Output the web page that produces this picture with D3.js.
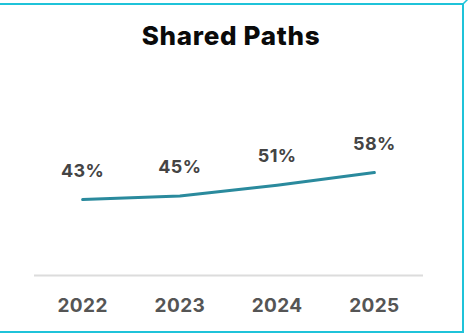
<!DOCTYPE html>
<html>
<head>
<meta charset="utf-8">
<script src="https://cdn.jsdelivr.net/npm/d3@7"></script>
<style>
  html, body { margin: 0; padding: 0; background: #fff; }
  svg { display: block; }
</style>
</head>
<body>
<div id="chart"></div>
<script>
// Share of respondents on shared paths, by year
const years = ["2022", "2023", "2024", "2025"];
const shares = [43, 45, 51, 58];
const title = "Shared Paths";

const W = 470, H = 334;
const svg = d3.select("#chart").append("svg")
  .attr("width", W).attr("height", H);

// card frame (left edge runs off the canvas)
const frame = "#1fc3d9";
svg.append("path")
  .attr("d", "M-5,4 H463 V332 H-5")
  .attr("fill", "none").attr("stroke", frame).attr("stroke-width", 2);
svg.append("path")
  .attr("d", "M463,4 L470,-3")
  .attr("fill", "none").attr("stroke", frame).attr("stroke-width", 1.5);

svg.append("text")
  .attr("x", 231).attr("y", 45)
  .attr("text-anchor", "middle")
  .attr("font-family", "Inter, 'Open Sans', sans-serif")
  .attr("font-weight", 800)
  .attr("font-size", 26)
  .attr("letter-spacing", 0.7)
  .attr("fill", "#0a0a0a")
  .text(title);

const x = d3.scaleBand().domain(years).range([34, 423]).padding(0);
const y = d3.scaleLinear().domain([0, 100]).range([277, 97]);

// baseline axis
const xAxis = svg.append("g")
  .attr("transform", `translate(0,${275.5})`)
  .call(d3.axisBottom(x).tickSize(0).tickPadding(23));
xAxis.select(".domain").attr("stroke", "#dcdcdc").attr("stroke-width", 2)
  .attr("d", `M34,0H423`);
xAxis.selectAll("text")
  .attr("font-family", "Inter, 'Open Sans', sans-serif")
  .attr("font-weight", 700)
  .attr("font-size", 19)
  .attr("letter-spacing", 0.4)
  .attr("fill", "#555");

const cx = d => x(d) + x.bandwidth() / 2;
const pts = years.map((yr, i) => [cx(yr), y(shares[i])]);

svg.append("path")
  .datum(pts)
  .attr("d", d3.line())
  .attr("fill", "none")
  .attr("stroke", "#2a8a9d")
  .attr("stroke-width", 3)
  .attr("stroke-linecap", "round")
  .attr("stroke-linejoin", "round");

svg.selectAll("text.val")
  .data(years)
  .join("text")
  .attr("class", "val")
  .attr("x", d => cx(d))
  .attr("y", (d, i) => y(shares[i]) - 23)
  .attr("text-anchor", "middle")
  .attr("font-family", "Inter, 'Open Sans', sans-serif")
  .attr("font-weight", 700)
  .attr("font-size", 18)
  .attr("letter-spacing", 0.4)
  .attr("fill", "#444")
  .text((d, i) => shares[i] + "%");
</script>
</body>
</html>
